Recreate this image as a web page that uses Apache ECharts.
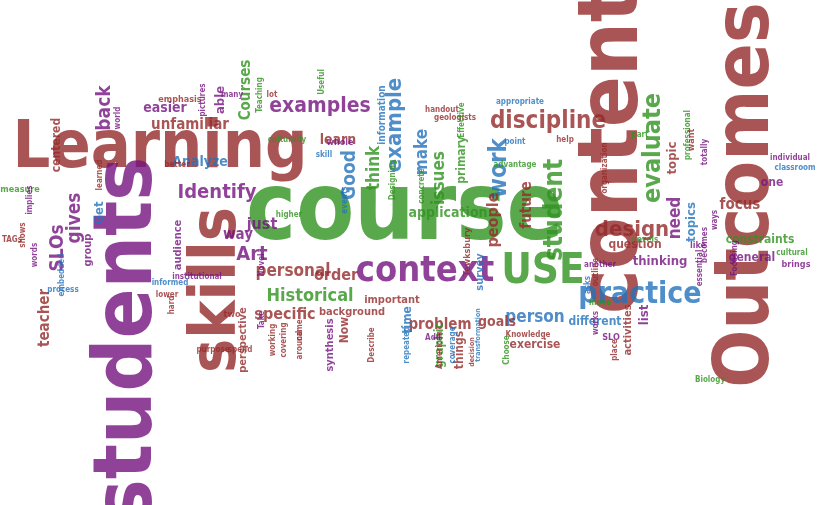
<!DOCTYPE html>
<html>
<head>
<meta charset="utf-8">
<script src="https://cdn.jsdelivr.net/npm/echarts@6/dist/echarts.min.js"></script>
<style>html,body{margin:0;padding:0;background:#fff}#main{width:839px;height:505px}</style>
</head>
<body>
<div id="main"></div>
<script>
// word cloud: word, size, x, y, vertical?, colour key
var words = ['course','Learning','students','content','Outcomes','skills','context','USE','practice','student',
  'discipline','examples','example','work','evaluate','design','Identify','Historical','personal','order',
  'Art','back','gives','SLOs','teacher','Good','think','make','issues','application',
  'people','future','need','topic','topics','focus','constraints','general','one','person',
  'goals','problem','specific','just','way','Analyze','easier','unfamiliar','able','Courses',
  'learn','thinking','question','different','list','activities','exercise','graphic','time','things',
  'survey','background','important','perspective','centered','Get','group','audience','synthesis','Now',
  'Tewksbury','primary','information','emphasis','pictures','many','Teaching','lot','Useful','handout',
  'geologists','Effective','appropriate','part','professional','want','totally','individual','classroom','measure',
  'implies','TAGs','words','embedded','process','hard','two','Take','Novel','institutional',
  'informed','lower','better','world','skill','culturally','whole','higher','events','concrete',
  'Designing','help','point','advantage','organization','novels','like','ways','becomes','Focusing',
  'essential','cultural','brings','Biology','outline','another','asks','works','place','SLO',
  'move','Knowledge','Choose','decision','transformation','coverage','American','Add','repeated','Describe',
  'came','around','covering','working','spend','purpose','shows','learned'];
var sizes = [94,66,82,84,76,64,36,42,30,26,
  24,21,22,24,25,22,20,18,17,16,
  20,19,19,19,15,19,17,17,17,14,
  16,15,17,13,13,15,12,12,12,17,
  14,15,16,16,15,14,14,15,13,15,
  14,13,12,12,13,11,12,12,12,12,
  11,11,11,11,12,13,11,11,11,12,
  9,12,10,9,8,8,8,8,8,8,
  8,8,8,8,8,9,8,8,8,9,
  8,8,8,8,8,8,9,8,8,8,
  8,8,8,8,8,8,9,8,8,8,
  8,8,8,8,8,8,9,8,8,8,
  8,8,9,8,8,8,8,8,8,9,
  8,8,8,7,7,8,8,8,8,8,
  8,8,8,8,8,8,8,8];
var xs = [405,160,130,615,748,218,425,543,640,555,
  548,320,395,500,653,632,217,310,293,336,
  252,105,75,58,45,350,375,423,440,448,
  494,527,676,673,692,740,760,752,772,535,
  497,440,285,262,238,200,165,190,221,246,
  338,660,635,595,645,628,535,440,408,460,
  480,352,392,243,57,100,88,178,330,345,
  468,462,382,180,203,232,260,272,322,442,
  455,462,520,640,688,692,705,790,795,20,
  30,12,35,62,63,172,232,262,262,197,
  170,167,177,118,324,287,340,289,345,422,
  393,565,515,515,605,645,698,715,705,735,
  700,792,796,710,596,600,588,596,615,611,
  600,528,507,472,478,453,440,433,407,372,
  300,300,284,273,240,213,23,100];
var ys = [215,150,340,150,195,290,272,272,295,210,
  122,107,125,168,148,230,193,296,272,276,
  255,108,218,248,318,175,168,152,178,213,
  220,205,218,158,222,205,240,258,183,318,
  322,325,315,225,235,162,108,125,100,90,
  140,262,245,322,315,330,345,345,320,350,
  272,312,300,340,145,213,250,245,345,330,
  252,160,115,100,100,95,95,95,82,110,
  118,120,102,135,135,140,152,158,168,190,
  200,240,255,275,290,305,315,320,265,277,
  283,295,165,118,155,140,143,215,200,186,
  180,140,142,165,168,240,246,220,245,258,
  268,253,265,380,272,265,285,323,350,338,
  303,335,350,352,335,345,350,338,345,345,
  330,345,340,340,350,350,235,175];
var vert = [0,0,1,1,1,1,0,0,0,1,
  0,0,1,1,1,0,0,0,0,0,
  0,1,1,1,1,1,1,1,1,0,
  1,1,1,1,1,0,0,0,0,0,
  0,0,0,0,0,0,0,0,1,1,
  0,0,0,0,1,1,0,1,1,1,
  1,0,0,1,1,1,1,1,1,1,
  1,1,1,0,1,0,1,0,1,0,
  0,1,0,0,1,1,1,0,0,0,
  1,0,1,1,0,1,0,1,1,0,
  0,0,0,1,0,0,0,0,1,1,
  1,0,0,0,1,0,0,1,1,1,
  1,0,0,0,1,0,1,1,1,0,
  0,0,1,1,1,1,1,0,1,1,
  1,1,1,1,0,0,1,1];
var hues = 'gRPRRRPgbg RPbbgRPgRR PPPPRbgbgg RRPRbRgPPb RRRPPbPRPg RPRbPRRgbR bRRRRbPPPR RgbRPPgRgR RgbggRPPbg PRPbbRRPPP bRRPbgPgbg gRbgRgPPPP PgPgRPbPRP gRgRbbRPbR';
hues = hues.replace(/ /g, '');

var palette = { R: '#952a2a', g: '#30921f', P: '#74137f', b: '#2372bb' };
var points = words.map(function (w, i) {
  return {
    value: [xs[i], ys[i]],
    label: {
      formatter: w,
      fontSize: sizes[i],
      rotate: vert[i] ? 90 : 0,
      color: palette[hues[i]] || '#952a2a'
    }
  };
});

var chart = echarts.init(document.getElementById('main'));
chart.setOption({
  backgroundColor: '#fff',
  animation: false,
  grid: { left: 0, right: 0, top: 0, bottom: 0 },
  xAxis: { type: 'value', min: 0, max: 839, show: false },
  yAxis: { type: 'value', min: 0, max: 505, inverse: true, show: false },
  series: [{
    type: 'scatter',
    symbolSize: 0,
    data: points,
    label: {
      show: true,
      position: 'inside',
      fontFamily: "'DejaVu Sans Condensed', sans-serif",
      fontWeight: 'bold'
    }
  }]
});
</script>
</body>
</html>
